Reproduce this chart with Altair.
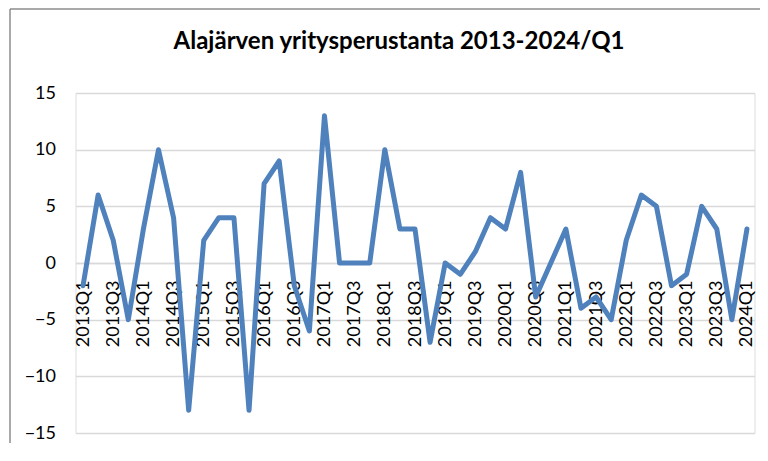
import altair as alt
import pandas as pd

quarters = [f"{y}Q{q}" for y in range(2013, 2025) for q in range(1, 5)][:45]
values = [-2, 6, 2, -5, 3, 10, 4, -13, 2, 4, 4, -13, 7, 9, -2, -6,
          13, 0, 0, 0, 10, 3, 3, -7, 0, -1, 1, 4, 3, 8, -3, 0,
          3, -4, -3, -5, 2, 6, 5, -2, -1, 5, 3, -5, 3]
label_values = [q for q in quarters if q.endswith("Q1") or q.endswith("Q3")]
y_ticks = [-15, -10, -5, 0, 5, 10, 15]

df = pd.DataFrame({"quarter": quarters, "value": values})
FONT = "Lato"

line = alt.Chart(df).mark_line(
    color="#4F81BD", strokeWidth=5, strokeJoin="round", strokeCap="round"
).encode(
    x=alt.X("quarter:O", sort=quarters,
            scale=alt.Scale(type="point", padding=0.5),
            axis=alt.Axis(title=None, values=label_values, labelAngle=-90,
                          labelAlign="right", labelBaseline="middle",
                          labelFontSize=18, labelFont=FONT, labelColor="#000000",
                          labelPadding=17, ticks=False, domain=True,
                          domainColor="#D9D9D9", domainWidth=1.3,
                          labelOverlap=False, offset=-170, grid=False)),
    y=alt.Y("value:Q", scale=alt.Scale(domain=[-15, 15], nice=False),
            axis=alt.Axis(title=None, values=y_ticks, labelFontSize=18,
                          labelFont=FONT, labelColor="#000000", labelPadding=20,
                          ticks=False, domain=False, grid=True,
                          gridColor="#D9D9D9", gridWidth=1.3)),
)

frame_df = pd.DataFrame({"k": [0]})
frame_left = alt.Chart(frame_df).mark_rule(color="#8C8C8C", strokeWidth=1.5).encode(
    x=alt.value(-65.5), y=alt.value(-84), y2=alt.value(400))
frame_top = alt.Chart(frame_df).mark_rule(color="#8C8C8C", strokeWidth=1.5).encode(
    x=alt.value(-65.5), x2=alt.value(720), y=alt.value(-84))

chart = alt.layer(frame_left, frame_top, line).properties(
    width=679, height=340,
    title=alt.TitleParams("Alajärven yritysperustanta 2013-2024/Q1",
                          font=FONT, fontSize=24, fontWeight="bold",
                          color="#000000", anchor="middle", dx=-16,
                          baseline="alphabetic", offset=-65),
    autosize=alt.AutoSizeParams(type="none"),
    padding={"left": 67.5, "top": 85, "right": 5, "bottom": 10},
).configure_view(stroke=None).configure(background="white")

chart.save("out.html", embed_options={"renderer": "svg", "actions": False})
